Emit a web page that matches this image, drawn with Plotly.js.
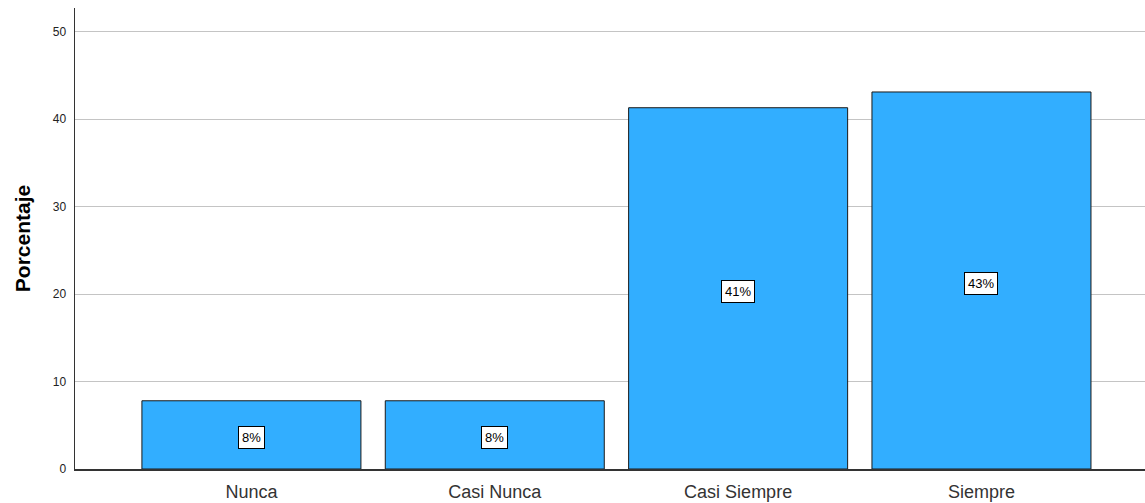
<!DOCTYPE html>
<html><head><meta charset="utf-8">
<script src="https://cdn.plot.ly/plotly-3.0.1.min.js"></script>
<style>html,body{margin:0;padding:0;background:#fff}#chart{width:1145px;height:503px}</style>
</head><body><div id="chart"></div>
<script>
const categories = ["Nunca", "Casi Nunca", "Casi Siempre", "Siempre"];
const percentages = [7.8, 7.8, 41.3, 43.1];
const yTicks = [0, 10, 20, 30, 40, 50];

const annotations = categories.map((c, i) => ({
  x: c, y: percentages[i] / 2, xref: 'x', yref: 'y', yshift: -3,
  text: Math.round(percentages[i]) + '%', showarrow: false,
  bgcolor: '#ffffff', bordercolor: '#000000', borderwidth: 1, borderpad: 3,
  font: {family: 'Liberation Sans, Arial, sans-serif', size: 13, color: '#000'}
}));

Plotly.newPlot('chart', [{
  type: 'bar', x: categories, y: percentages, width: 0.9,
  marker: {color: '#32aeff', line: {color: '#1a1a1a', width: 1}},
  hoverinfo: 'none'
}], {
  width: 1145, height: 503,
  margin: {l: 75, r: 0, t: 8, b: 34, pad: 0},
  paper_bgcolor: '#fff', plot_bgcolor: '#fff',
  showlegend: false,
  bargap: 0.1,
  xaxis: {
    type: 'category', range: [-0.725, 3.672],
    showline: true, linecolor: '#333', linewidth: 1.5,
    showgrid: false, ticks: '', zeroline: false, ticklabelstandoff: 6,
    tickfont: {family: 'Liberation Sans, Arial, sans-serif', size: 18, color: '#333'}
  },
  yaxis: {
    range: [0, 52.7], tickvals: yTicks, ticktext: yTicks.map(String),
    showline: true, linecolor: '#333', linewidth: 1.5,
    showgrid: true, gridcolor: '#c4c4c4', gridwidth: 1, zeroline: false,
    ticks: '', ticklen: 0, ticklabelstandoff: 5,
    tickfont: {family: 'Liberation Sans, Arial, sans-serif', size: 12, color: '#222'},
    title: {text: '<b>Porcentaje</b>', standoff: 16,
      font: {family: 'Liberation Sans, Arial, sans-serif', size: 21, color: '#000'}}
  },
  annotations: annotations
}, {displayModeBar: false, staticPlot: true});
</script></body></html>
